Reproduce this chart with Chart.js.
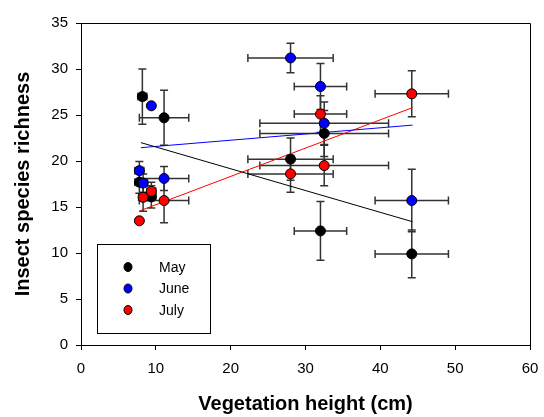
<!DOCTYPE html>
<html>
<head>
<meta charset="utf-8">
<script src="https://cdn.jsdelivr.net/npm/chart.js@4"></script>
<style>
    html, body { margin: 0; padding: 0; background: #fff; }
    #wrap { width: 544px; height: 417px; }
</style>
</head>
<body>
<div id="wrap"><canvas id="chart" width="544" height="417"></canvas></div>
<script>
const seriesNames = ["May", "June", "July"];
const seriesColors = ["#000000", "#0000ff", "#ff0000"];

// vegetation height (cm) and species richness per month, with error bars
const mayX = [8.2, 11.1, 7.8, 9.4, 28.0, 32.5, 32.0, 44.2];
const mayY = [27.0, 24.7, 17.7, 16.1, 20.2, 23.0, 12.4, 9.9];
const mayXErr = [0.6, 3.3, 0.6, 0.6, 5.7, 8.6, 3.5, 4.9];
const mayYErr = [3.0, 3.0, 1.2, 1.2, 2.3, 2.5, 3.2, 2.6];

const juneX = [9.4, 7.8, 8.3, 11.1, 28.0, 32.0, 32.5, 44.2];
const juneY = [26.0, 18.95, 17.6, 18.1, 31.2, 28.1, 24.1, 15.7];
const juneXErr = [0, 0.6, 0.6, 3.3, 5.7, 3.5, 8.6, 4.9];
const juneYErr = [0, 1.0, 1.0, 1.3, 1.6, 2.5, 2.3, 3.4];

const julyX = [7.8, 8.3, 9.4, 11.1, 28.0, 32.0, 32.5, 44.2];
const julyY = [13.5, 16.05, 16.7, 15.7, 18.6, 25.1, 19.5, 27.3];
const julyXErr = [0, 0.6, 0.6, 3.3, 5.7, 3.5, 8.6, 4.9];
const julyYErr = [0, 1.5, 1.0, 2.4, 2.0, 2.0, 2.2, 2.5];

// regression line end points
const mayFitX = [8.0, 44.3];
const mayFitY = [22.0, 13.4];
const juneFitX = [8.0, 44.3];
const juneFitY = [21.45, 23.9];
const julyFitX = [7.9, 44.3];
const julyFitY = [14.6, 25.8];

const xTicks = [0, 10, 20, 30, 40, 50, 60];
const yTicks = [0, 5, 10, 15, 20, 25, 30, 35];

const FONT = "'Liberation Sans', Arial, sans-serif";

function toPoints(xs, ys, xe, ye) {
    return xs.map((x, i) => ({ x, y: ys[i], xErr: xe ? xe[i] : 0, yErr: ye ? ye[i] : 0 }));
}

const pointSets = [
    toPoints(mayX, mayY, mayXErr, mayYErr),
    toPoints(juneX, juneY, juneXErr, juneYErr),
    toPoints(julyX, julyY, julyXErr, julyYErr)
];
const fitSets = [
    toPoints(mayFitX, mayFitY),
    toPoints(juneFitX, juneFitY),
    toPoints(julyFitX, julyFitY)
];

const datasets = [];
// July on top, then June, then May
pointSets.forEach((pts, i) => {
    datasets.push({
        label: seriesNames[i],
        data: pts,
        backgroundColor: seriesColors[i],
        borderColor: "#000",
        borderWidth: 1,
        pointRadius: 5,
        pointHoverRadius: 5,
        order: 3 - i,
        isPoints: true
    });
});
fitSets.forEach((pts, i) => {
    datasets.push({
        label: seriesNames[i] + " fit",
        data: pts,
        showLine: true,
        borderColor: seriesColors[i],
        borderWidth: 1,
        pointRadius: 0,
        fill: false,
        order: 10 + i
    });
});

// error bars, frame and legend box
const extras = {
    id: "extras",
    beforeDatasetsDraw(chart) {
        const ctx = chart.ctx;
        const xs = chart.scales.x, ys = chart.scales.y;
        const cap = 4;
        ctx.save();
        ctx.strokeStyle = "#333";
        ctx.lineWidth = 1.5;
        chart.data.datasets.forEach(ds => {
            if (!ds.isPoints) return;
            ds.data.forEach(p => {
                const px = xs.getPixelForValue(p.x);
                const py = ys.getPixelForValue(p.y);
                ctx.beginPath();
                if (p.xErr > 0) {
                    const x1 = xs.getPixelForValue(p.x - p.xErr);
                    const x2 = xs.getPixelForValue(p.x + p.xErr);
                    ctx.moveTo(x1, py); ctx.lineTo(x2, py);
                    ctx.moveTo(x1, py - cap); ctx.lineTo(x1, py + cap);
                    ctx.moveTo(x2, py - cap); ctx.lineTo(x2, py + cap);
                }
                if (p.yErr > 0) {
                    const y1 = ys.getPixelForValue(p.y - p.yErr);
                    const y2 = ys.getPixelForValue(p.y + p.yErr);
                    ctx.moveTo(px, y1); ctx.lineTo(px, y2);
                    ctx.moveTo(px - cap, y1); ctx.lineTo(px + cap, y1);
                    ctx.moveTo(px - cap, y2); ctx.lineTo(px + cap, y2);
                }
                ctx.stroke();
            });
        });
        ctx.restore();
    },
    afterDraw(chart) {
        const ctx = chart.ctx;
        const a = chart.chartArea;
        ctx.save();
        ctx.strokeStyle = "#000";
        ctx.lineWidth = 1;
        ctx.beginPath();
        ctx.moveTo(a.left, a.top + 0.5);
        ctx.lineTo(a.right + 0.5, a.top + 0.5);
        ctx.lineTo(a.right + 0.5, a.bottom);
        ctx.stroke();

        // legend
        const bx = 97, by = 244, bw = 113, bh = 89;
        ctx.fillStyle = "#fff";
        ctx.fillRect(bx, by, bw, bh);
        ctx.strokeStyle = "#000";
        ctx.strokeRect(bx + 0.5, by + 0.5, bw, bh);
        ctx.font = "14px " + FONT;
        ctx.textBaseline = "middle";
        ctx.textAlign = "left";
        seriesNames.forEach((name, i) => {
            const cy = by + 23 + i * 21.5;
            ctx.beginPath();
            ctx.ellipse(bx + 31, cy, 4, 4.5, 0, 0, Math.PI * 2);
            ctx.fillStyle = seriesColors[i];
            ctx.fill();
            ctx.strokeStyle = "#000";
            ctx.stroke();
            ctx.fillStyle = "#000";
            ctx.fillText(name, bx + 62, cy + 1);
        });
        ctx.restore();
    }
};

new Chart(document.getElementById("chart"), {
    type: "scatter",
    data: { datasets },
    options: {
        responsive: false,
        animation: false,
        events: [],
        layout: { padding: { top: 23, right: 14, left: 0, bottom: 0 } },
        plugins: { legend: { display: false }, tooltip: { enabled: false } },
        scales: {
            x: {
                type: "linear",
                min: 0,
                max: 60,
                afterBuildTicks: s => { s.ticks = xTicks.map(v => ({ value: v })); },
                afterFit: s => { s.height = 72; s.paddingRight = 0; s.paddingLeft = 0; },
                ticks: { color: "#000", padding: 10, font: { family: FONT, size: 15 } },
                grid: { drawOnChartArea: false, drawTicks: true, tickLength: 5, color: "#000" },
                border: { display: true, color: "#000", width: 1 },
                title: {
                    display: true,
                    text: "Vegetation height (cm)",
                    color: "#000",
                    font: { family: FONT, size: 20, weight: "bold" },
                    padding: { top: 0, bottom: 1 }
                }
            },
            y: {
                type: "linear",
                min: 0,
                max: 35,
                afterBuildTicks: s => { s.ticks = yTicks.map(v => ({ value: v })); },
                afterFit: s => { s.width = 81; s.paddingTop = 0; s.paddingBottom = 0; },
                ticks: { color: "#000", padding: 8, font: { family: FONT, size: 15 } },
                grid: { drawOnChartArea: false, drawTicks: true, tickLength: 5, color: "#000" },
                border: { display: true, color: "#000", width: 1 },
                title: {
                    display: true,
                    text: "Insect species richness",
                    color: "#000",
                    font: { family: FONT, size: 20, weight: "bold" },
                    padding: { top: 11, bottom: 0 }
                }
            }
        }
    },
    plugins: [extras]
});
</script>
</body>
</html>
